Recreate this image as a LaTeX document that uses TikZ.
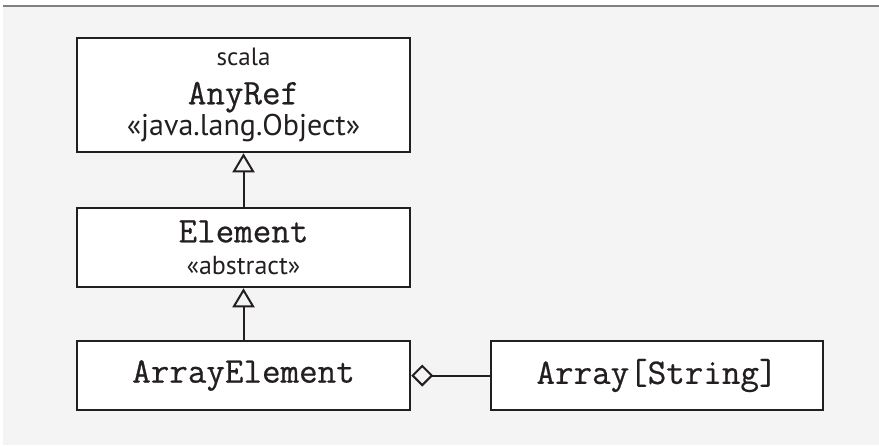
\documentclass[tikz,border=0pt]{standalone}
\usepackage{fontspec}
\setsansfont{PT Sans}
\setmonofont[FakeBold=0.6]{Latin Modern Mono}
\usetikzlibrary{arrows.meta}
\definecolor{ink}{HTML}{231F20}
\definecolor{paper}{HTML}{F4F4F4}
\begin{document}
\begin{tikzpicture}[x=1pt, y=-1pt,
    klass/.style ={rectangle, draw=ink, line width=2.5pt, fill=white, align=center,
      inner sep=0pt, minimum width=333pt, text=ink,
      font=\fontsize{26}{27}\selectfont},
    link/.style ={draw=ink, line width=2pt}]
   \useasboundingbox (0,0) rectangle (879,445);
   \fill[paper] (3,6) rectangle (879,445);
   \draw[gray, line width=1.5pt] (3,6) -- (879,6);

   \node[klass, minimum height=114pt] (R) at (243.5,95)
     {{\sffamily\fontsize{25}{27}\selectfont scala}\\[12pt]{\ttfamily\fontsize{36}{27}\selectfont AnyRef}\\[1pt]{\sffamily\fontsize{30}{27}\selectfont «java.lang.Object»}};
   \node[klass, minimum height=79pt] (E) at (243.5,247.5)
     {{\ttfamily\fontsize{36}{27}\selectfont Element}\\[5pt]{\sffamily «abstract»}};
   \node[klass, minimum height=69pt] (A) at (243.5,375.5)
     {\ttfamily\fontsize{36}{27}\selectfont ArrayElement};
   \node[klass, minimum height=69pt, minimum width=332pt] (S) at (657,375.5)
     {\ttfamily\fontsize{36}{27}\selectfont Array[String]};

   \draw[link, -{Triangle[open, width=22pt, length=19pt]}] (E) to (R);
   \draw[link, -{Triangle[open, width=22pt, length=19pt]}] (A) to (E);
   \draw[link, {Diamond[open, width=22pt, length=22pt]}-] (A) to (S);

 \end{tikzpicture}
\end{document}
